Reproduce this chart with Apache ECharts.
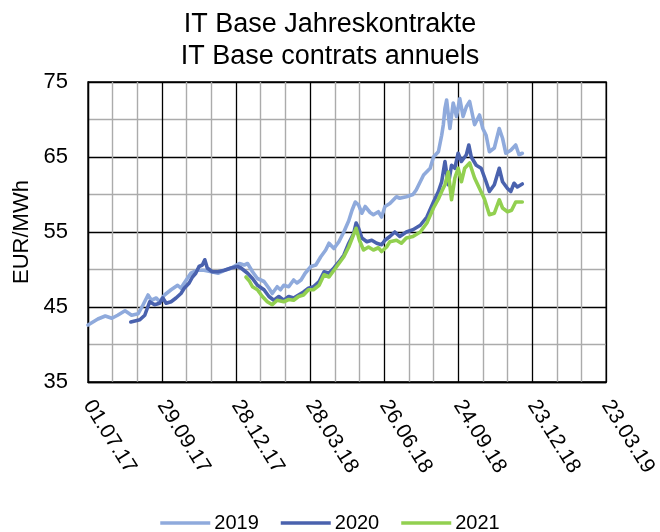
<!DOCTYPE html>
<html>
<head>
<meta charset="utf-8">
<script src="https://cdn.jsdelivr.net/npm/echarts@6/dist/echarts.min.js"></script>
<style>html,body{margin:0;padding:0;background:#fff}#c{width:660px;height:532px}</style>
</head>
<body>
<div id="c"></div>
<script>
// x values are days since 01.07.2017
const startDate = Date.UTC(2017, 6, 1);
const xMin = 0, xMax = 630, xStep = 90;
const yMin = 35, yMax = 75, yStep = 10;
const seriesNames = ['2019', '2020', '2021'];

const days2019 = [0,12,21,29,36,45,53,61,67,73,77,83,87,93,101,109,113,117,125,133,141,150,158,166,174,184,190,194,200,206,214,220,224,230,234,238,244,250,254,259,264,271,277,283,289,293,299,305,311,317,321,325,329,333,337,343,347,353,357,361,367,375,379,387,395,399,408,416,420,426,430,432,434,436,440,444,448,452,456,460,464,470,476,480,484,488,494,500,504,508,514,520,524,528];
const vals2019 = [42.6,43.4,43.8,43.5,43.9,44.5,43.9,44.1,45.3,46.6,45.9,46.2,45.7,46.6,47.3,47.9,47.5,48.2,49.5,49.9,49.9,49.7,49.5,49.9,50.2,50.8,50.6,50.8,49.7,48.8,48.4,47.5,46.8,47.7,47.3,47.9,47.7,48.6,48.2,48.6,49.5,50.4,50.6,51.7,52.6,53.5,52.8,53.7,55.0,56.5,57.9,59.0,58.6,57.5,58.4,57.6,57.3,57.7,57.0,58.4,58.8,59.7,59.5,59.7,60.0,60.6,62.6,63.5,65.0,65.7,67.9,69.3,71.5,72.6,68.8,72.2,70.4,72.8,70.4,71.7,72.4,69.3,70.6,68.8,67.9,65.7,66.2,68.8,67.5,65.5,65.9,66.6,65.3,65.5];

const days2020 = [52,63,69,75,81,87,91,95,101,107,113,117,123,127,131,135,139,142,145,151,158,166,174,182,186,194,200,206,214,220,226,232,238,244,250,256,262,268,274,281,287,293,299,305,311,317,323,326,329,333,339,345,351,357,361,367,373,379,387,395,404,412,420,426,430,434,438,442,446,450,454,460,463,466,472,478,484,488,494,500,504,510,514,518,522,528];
const vals2020 = [43.0,43.3,43.9,45.7,45.3,45.5,46.2,45.5,45.7,46.2,46.8,47.5,48.2,49.0,49.5,50.4,50.6,51.3,50.2,49.7,49.7,49.9,50.2,50.4,50.2,49.5,48.8,47.9,47.3,46.4,45.9,46.4,45.9,46.4,46.2,46.6,47.0,47.5,47.7,48.4,49.7,49.5,50.2,51.0,51.9,53.5,54.8,56.2,55.5,54.2,53.7,53.9,53.5,53.3,53.9,54.4,55.0,54.4,55.0,55.3,55.9,57.0,59.0,60.4,61.7,64.4,61.3,63.9,63.5,65.5,64.4,65.3,66.6,65.0,63.9,63.5,61.7,60.4,61.3,63.5,61.7,60.8,60.4,61.5,61.0,61.4];

const days2021 = [192,196,200,206,212,218,224,230,238,244,250,256,262,268,274,281,287,293,299,305,311,317,322,326,330,335,341,347,353,357,363,367,375,381,387,395,404,412,420,426,430,434,438,442,446,450,454,458,464,470,476,482,488,494,500,504,510,515,520,528];
const vals2021 = [49.0,48.5,47.7,47.3,46.4,45.7,45.3,45.9,45.7,46.0,45.9,46.4,46.6,47.3,47.3,47.9,49.3,49.0,49.9,50.8,51.7,53.0,54.4,55.5,53.9,52.6,53.0,52.6,52.9,52.4,53.0,53.7,53.9,53.5,54.2,54.4,55.0,56.2,58.2,59.4,60.4,61.3,63.0,59.3,62.2,63.5,61.7,63.5,64.2,62.2,60.8,59.4,57.3,57.5,59.3,58.2,57.7,57.9,59.0,59.0];

const colors = ['#8FAADC', '#4A62AE', '#92D050'];
const FONT = 'Liberation Sans, Arial, sans-serif';

function pair(d, v) { return d.map((x, i) => [x, v[i]]); }
function fmtDay(d) {
  const dt = new Date(startDate + d * 86400000);
  const p = n => String(n).padStart(2, '0');
  return p(dt.getUTCDate()) + '.' + p(dt.getUTCMonth() + 1) + '.' + p(dt.getUTCFullYear() % 100);
}

const chart = echarts.init(document.getElementById('c'), null, {renderer: 'canvas'});
const allData = [pair(days2019, vals2019), pair(days2020, vals2020), pair(days2021, vals2021)];

chart.setOption({
  animation: false,
  color: colors,
  title: {
    text: 'IT Base Jahreskontrakte\nIT Base contrats annuels',
    left: 'center', top: 4,
    textStyle: {fontFamily: FONT, fontSize: 27, fontWeight: 'normal', color: '#000', lineHeight: 32}
  },
  legend: {
    data: seriesNames,
    top: 508, left: 'center',
    icon: 'rect',
    itemWidth: 50, itemHeight: 3.5, itemGap: 22,
    textStyle: {fontFamily: FONT, fontSize: 20, color: '#000', padding: [0, 0, 0, -1]}
  },
  grid: {left: 88, right: 51, top: 82, bottom: 150, show: true, borderColor: '#000', borderWidth: 1.3, containLabel: false},
  xAxis: {
    type: 'value', min: xMin, max: xMax, interval: xStep,
    axisLine: {show: true, lineStyle: {color: '#000', width: 1.3}},
    axisTick: {show: false},
    axisLabel: {rotate: -58, margin: 20, fontFamily: FONT, fontSize: 21, color: '#000', formatter: fmtDay, showMaxLabel: true, showMinLabel: true},
    splitLine: {show: true, lineStyle: {color: '#000', width: 1.3}},
    minorTick: {show: false, splitNumber: 3},
    minorSplitLine: {show: true, lineStyle: {color: '#ABABAB', width: 1.4}}
  },
  yAxis: {
    type: 'value', min: yMin, max: yMax, interval: yStep,
    name: 'EUR/MWh', nameLocation: 'middle', nameGap: 55,
    nameTextStyle: {fontFamily: FONT, fontSize: 22, color: '#000'},
    axisLine: {show: true, lineStyle: {color: '#000', width: 1.3}},
    axisTick: {show: false},
    axisLabel: {margin: 20, fontFamily: FONT, fontSize: 22, color: '#000'},
    splitLine: {show: true, lineStyle: {color: '#000', width: 1.3}},
    minorTick: {show: false, splitNumber: 2},
    minorSplitLine: {show: true, lineStyle: {color: '#ABABAB', width: 1.4}}
  },
  series: seriesNames.map((n, i) => ({
    name: n, type: 'line', data: allData[i], symbol: 'none', showSymbol: false,
    lineStyle: {width: 3.6, color: colors[i], join: 'round', cap: 'round'}, z: 3 + i
  }))
});
</script>
</body>
</html>
